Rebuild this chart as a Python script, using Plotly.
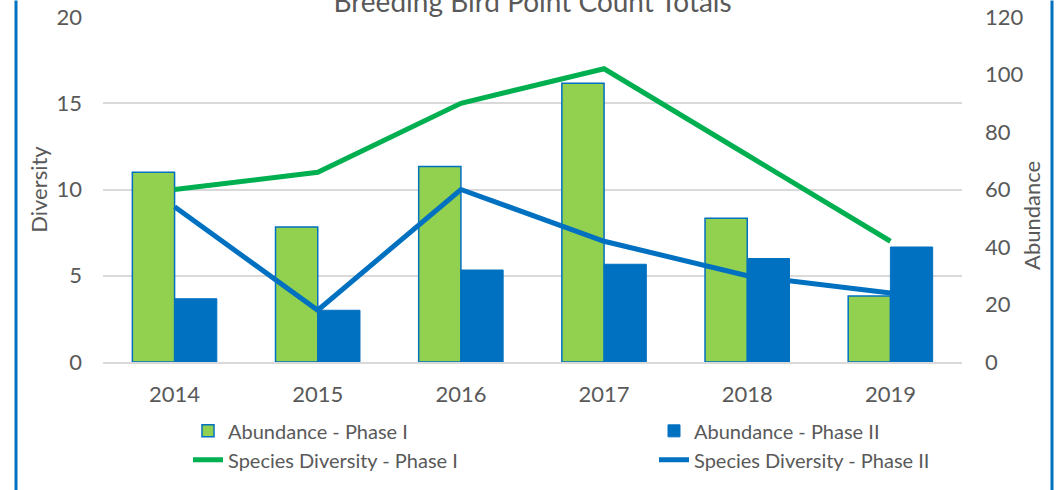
import plotly.graph_objects as go

years = ["2014", "2015", "2016", "2017", "2018", "2019"]
abundance_phase1 = [66, 47, 68, 97, 50, 23]
abundance_phase2 = [22, 18, 32, 34, 36, 40]
diversity_phase1 = [10, 11, 15, 17, 12, 7]
diversity_phase2 = [9, 3, 10, 7, 5, 4]

names = ["Abundance - Phase I", "Abundance - Phase II",
         "Species Diversity - Phase I", "Species Diversity - Phase II"]

GREEN_BAR = "#92D050"
BLUE = "#0070C0"
GREEN_LINE = "#00B050"
TXT = "#595959"
GRID = "#D9D9D9"
FONT = "Lato"

W, H = 1063, 490
PLOT_L, PLOT_R, PLOT_T, PLOT_B = 103, 962, 16.5, 362.5   # px
L = PLOT_L
T = PLOT_T
PW = PLOT_R - PLOT_L
PH = PLOT_B - PLOT_T
R = W - L - PW
B = H - T - PH

def px_x(px):
    return (px - PLOT_L) / PW

def px_y(py):
    return (PLOT_B - py) / PH

fig = go.Figure()
fig.add_trace(go.Bar(x=years, y=abundance_phase1, name=names[0], yaxis="y",
                     marker=dict(color=GREEN_BAR, line=dict(color=BLUE, width=1.5)),
                     legend="legend"))
fig.add_trace(go.Bar(x=years, y=abundance_phase2, name=names[1], yaxis="y",
                     marker=dict(color=BLUE, line=dict(color=BLUE, width=1)),
                     legend="legend2"))
fig.add_trace(go.Scatter(x=years, y=diversity_phase1, name=names[2], yaxis="y2",
                         mode="lines", line=dict(color=GREEN_LINE, width=5),
                         legend="legend"))
fig.add_trace(go.Scatter(x=years, y=diversity_phase2, name=names[3], yaxis="y2",
                         mode="lines", line=dict(color=BLUE, width=5),
                         legend="legend2"))

fig.update_layout(
    width=W, height=H,
    margin=dict(l=L, r=R, t=T, b=B, autoexpand=False),
    paper_bgcolor="white", plot_bgcolor="white",
    font=dict(family=FONT, color=TXT, size=22),
    barmode="group", bargap=0.41, bargroupgap=0,
    title=dict(text="Breeding Bird Point Count Totals", font=dict(size=28, color=TXT),
               x=0.5, xref="paper", xanchor="center",
               y=1 - 11.5 / H, yref="container", yanchor="bottom"),
    xaxis=dict(showgrid=False, showline=True, linecolor=GRID, linewidth=2,
               ticks="", ticklabelstandoff=12, tickfont=dict(size=22)),
    yaxis=dict(range=[0, 120], dtick=20, side="right", showgrid=False, zeroline=False,
               ticks="", ticklabelstandoff=22, tickfont=dict(size=22),
               ticklabeloverflow="allow"),
    yaxis2=dict(range=[0, 20], dtick=5, side="left", overlaying="y", showgrid=True,
                gridcolor=GRID, gridwidth=2, zeroline=False, ticks="",
                ticklabelstandoff=20, tickfont=dict(size=22),
                ticklabeloverflow="allow",
                title=dict(text="Diversity", font=dict(size=22), standoff=2)),
    legend=dict(x=px_x(188), xanchor="left", y=px_y(412), yanchor="top",
                orientation="v", font=dict(size=20, color=TXT),
                bgcolor="rgba(0,0,0,0)", tracegroupgap=0),
    legend2=dict(x=px_x(654), xanchor="left", y=px_y(412), yanchor="top",
                 orientation="v", font=dict(size=20, color=TXT),
                 bgcolor="rgba(0,0,0,0)", tracegroupgap=0),
    annotations=[dict(text="Abundance", textangle=-90, xref="paper", yref="paper",
                      x=px_x(1032), y=px_y(216), xanchor="center", yanchor="middle",
                      showarrow=False, font=dict(size=22, color=TXT))],
    shapes=[
        dict(type="line", xref="paper", yref="paper", x0=px_x(16), x1=px_x(16),
             y0=px_y(0), y1=px_y(495), line=dict(color=BLUE, width=3)),
        dict(type="line", xref="paper", yref="paper", x0=px_x(1052), x1=px_x(1052),
             y0=px_y(0), y1=px_y(495), line=dict(color=BLUE, width=3)),
    ],
)

fig.write_html("out.html", config={"displayModeBar": False},
               post_script="document.body.style.margin='0';")
